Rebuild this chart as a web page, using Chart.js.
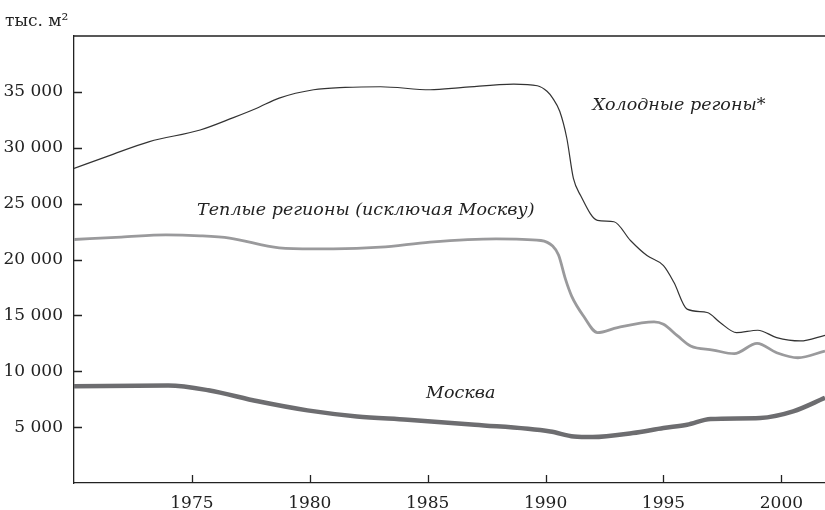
<!DOCTYPE html>
<html>
<head>
<meta charset="utf-8">
<script src="https://cdn.jsdelivr.net/npm/chart.js@4/dist/chart.umd.min.js"></script>
<style>
html, body { margin: 0; padding: 0; background: #fff; }
</style>
</head>
<body>
<canvas id="chart" width="825" height="510"></canvas>
<script>
// values (thousand m2)
const coldYears = [1970, 1971.5, 1973.2, 1975.35, 1976.76, 1977.75, 1978.7, 1980.16, 1981.5, 1983, 1985.1, 1986.5, 1988.65, 1989.65, 1990.06, 1990.3, 1990.6, 1990.9, 1991.18, 1991.48, 1992.2, 1992.9, 1993.6, 1994.3, 1995, 1995.44, 1996, 1996.85, 1997.4, 1998.1, 1999, 1999.8, 2000.8, 2001.85];
const coldValues = [28150, 29300, 30550, 31590, 32700, 33540, 34440, 35190, 35400, 35460, 35190, 35400, 35700, 35550, 35050, 34440, 33260, 30850, 27250, 25750, 23500, 23380, 21700, 20350, 19450, 17960, 15560, 15260, 14360, 13460, 13670, 13010, 12710, 13220];

const warmYears = [1970, 1972, 1973.9, 1975.35, 1976.6, 1978.7, 1980.15, 1981, 1983, 1985.1, 1987.9, 1989.8, 1990.3, 1990.55, 1990.84, 1991.1, 1991.6, 1992.2, 1993.05, 1994.6, 1995, 1995.6, 1996.15, 1997.1, 1998, 1998.97, 1999.8, 2000.7, 2001.85];
const warmValues = [21790, 22000, 22210, 22120, 21910, 21040, 20950, 20950, 21100, 21560, 21850, 21700, 21200, 20400, 18260, 16750, 14960, 13460, 13910, 14420, 14210, 13160, 12260, 11900, 11570, 12500, 11660, 11210, 11810];

const moscowYears = [1970, 1974, 1975.7, 1977.8, 1979.9, 1982, 1984.15, 1987, 1990.2, 1991.2, 1992, 1993.7, 1995, 1996, 1997, 1999.1, 2000.5, 2001.85];
const moscowValues = [8660, 8720, 8300, 7310, 6500, 5960, 5670, 5216, 4610, 4160, 4110, 4470, 4920, 5216, 5730, 5820, 6410, 7620];

const xTicks = [1975, 1980, 1985, 1990, 1995, 2000];
const yTicks = [5000, 10000, 15000, 20000, 25000, 30000, 35000];

const seriesNames = ["Холодные регоны*", "Теплые регионы (исключая Москву)", "Москва"];
const unitLabel = "тыс. м²";

function toPoints(xs, ys) {
    return xs.map((x, i) => ({ x: x, y: ys[i] }));
}

function fmt(v) {
    return String(v).replace(/\B(?=(\d{3})+(?!\d))/g, " ");
}

const serif = '"DejaVu Serif", "Liberation Serif", serif';
const ink = "#222";

// inward tick marks, top frame line, unit and series captions
const decorations = {
    id: "decorations",
    afterDraw(chart) {
        const { ctx, chartArea, scales } = chart;
        ctx.save();
        ctx.strokeStyle = ink;
        ctx.lineWidth = 1.3;
        ctx.beginPath();
        ctx.moveTo(chartArea.left, chartArea.top);
        ctx.lineTo(chartArea.right, chartArea.top);
        yTicks.forEach(v => {
            const y = Math.round(scales.y.getPixelForValue(v)) + 0.5;
            ctx.moveTo(chartArea.left, y);
            ctx.lineTo(chartArea.left + 8, y);
        });
        xTicks.forEach(v => {
            const x = Math.round(scales.x.getPixelForValue(v)) + 0.5;
            ctx.moveTo(x, chartArea.bottom);
            ctx.lineTo(x, chartArea.bottom - 8);
        });
        ctx.stroke();

        ctx.fillStyle = ink;
        ctx.textBaseline = "middle";
        ctx.textAlign = "left";
        ctx.font = "17px " + serif;
        ctx.fillText(unitLabel, 5, 22);

        ctx.font = "italic 17.5px " + serif;
        const captions = [
            [seriesNames[0], 1991.99, 33800],
            [seriesNames[1], 1975.22, 24350],
            [seriesNames[2], 1984.93, 8050]
        ];
        captions.forEach(c => {
            ctx.fillText(c[0], scales.x.getPixelForValue(c[1]), scales.y.getPixelForValue(c[2]));
        });
        ctx.restore();
    }
};

new Chart(document.getElementById("chart"), {
    type: "line",
    data: {
        datasets: [
            {
                label: seriesNames[2],
                data: toPoints(moscowYears, moscowValues),
                borderColor: "#6d6d70",
                borderWidth: 4.5,
                cubicInterpolationMode: "monotone",
                pointRadius: 0
            },
            {
                label: seriesNames[1],
                data: toPoints(warmYears, warmValues),
                borderColor: "#9a9a9c",
                borderWidth: 2.8,
                cubicInterpolationMode: "monotone",
                pointRadius: 0
            },
            {
                label: seriesNames[0],
                data: toPoints(coldYears, coldValues),
                borderColor: "#333",
                borderWidth: 1.2,
                cubicInterpolationMode: "monotone",
                pointRadius: 0
            }
        ]
    },
    options: {
        responsive: false,
        animation: false,
        layout: { padding: { top: 36, left: 0, right: 0, bottom: 0 } },
        plugins: { legend: { display: false }, tooltip: { enabled: false } },
        scales: {
            x: {
                type: "linear",
                min: 1970,
                max: 2001.85,
                afterBuildTicks: scale => { scale.ticks = xTicks.map(v => ({ value: v })); },
                afterFit: scale => { scale.height = 27; },
                grid: { display: true, drawOnChartArea: false, drawTicks: false },
                border: { display: true, color: ink, width: 1.3 },
                ticks: {
                    autoSkip: false,
                    maxRotation: 0,
                    padding: 10,
                    color: ink,
                    font: { family: serif, size: 17 },
                    callback: v => String(v)
                }
            },
            y: {
                min: 0,
                max: 40000,
                afterBuildTicks: scale => { scale.ticks = yTicks.map(v => ({ value: v })); },
                afterFit: scale => { scale.width = 74; },
                grid: { display: true, drawOnChartArea: false, drawTicks: false },
                border: { display: true, color: ink, width: 1.3 },
                ticks: {
                    padding: 11,
                    color: ink,
                    font: { family: serif, size: 17 },
                    callback: v => fmt(v)
                }
            }
        }
    },
    plugins: [decorations]
});
</script>
</body>
</html>
